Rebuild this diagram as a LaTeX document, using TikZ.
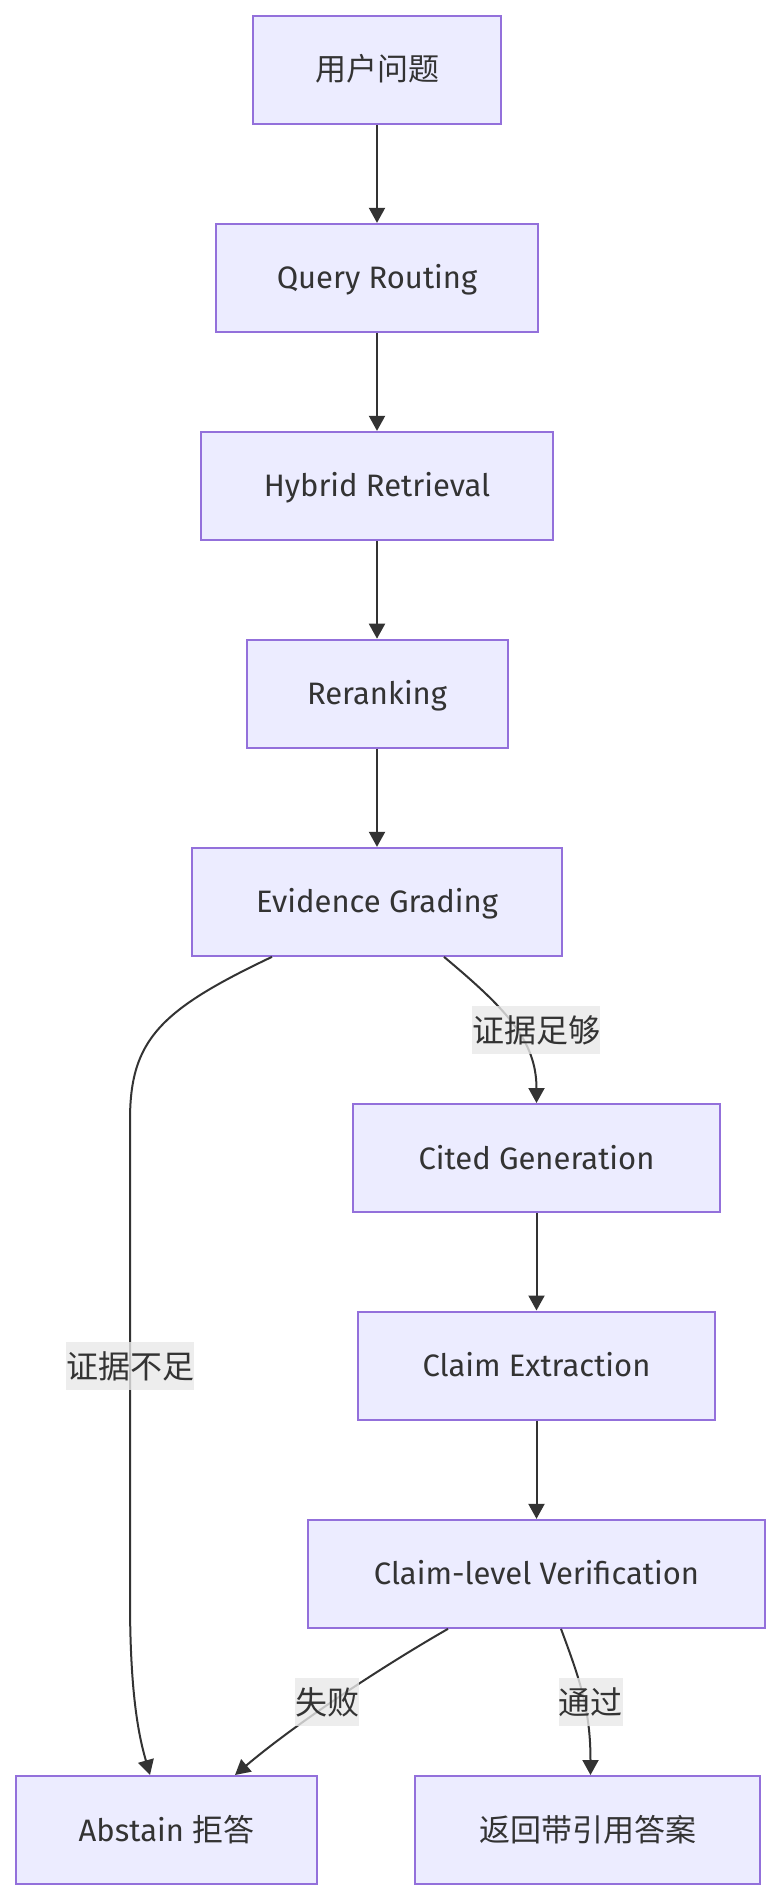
\documentclass[tikz,border=0pt]{standalone}
\usepackage{fontspec}
\setmainfont{Fira Sans}
\newfontfamily\cjk{Noto Sans CJK SC}
\usetikzlibrary{arrows.meta}
\definecolor{nodefill}{HTML}{ECECFF}
\definecolor{nodeline}{HTML}{9370DB}
\definecolor{edgecol}{HTML}{333333}
\definecolor{labelbg}{HTML}{E8E8E8}
\tikzset{
  box/.style={draw=nodeline, fill=nodefill, line width=2pt, minimum height=108pt,
    inner sep=0pt, text=edgecol, text height=22pt, text depth=0pt,
    font=\fontsize{31}{38}\selectfont},
  lbl/.style={fill=labelbg, fill opacity=0.8, text opacity=1, text=edgecol,
    inner sep=0pt, minimum height=48pt, font=\fontsize{32}{38}\selectfont\cjk},
  arr/.style={draw=edgecol, line width=2pt, -{Triangle[length=15pt,width=16pt]}}
}
\begin{document}
\begin{tikzpicture}[x=1pt,y=-1pt]
\useasboundingbox (0,0) rectangle (780,1900);
% nodes
\node[box, minimum width=248.7pt] (q) at (377,69.85) {\cjk 用户问题};
\node[box, minimum width=322.3pt] (route) at (377,277.85) {Query Routing};
\node[box, minimum width=352.6pt] (hyb) at (377,485.85) {Hybrid Retrieval};
\node[box, minimum width=261pt] (rer) at (377,693.7) {Reranking};
\node[box, minimum width=370pt] (evi) at (377,901.85) {Evidence Grading};
\node[box, minimum width=366.6pt] (cit) at (536.5,1158) {Cited Generation};
\node[box, minimum width=357.7pt] (ext) at (536.5,1365.5) {Claim Extraction};
\node[box, minimum width=457pt] (ver) at (536.5,1573.85) {Claim-level Verification};
\node[box, minimum width=301pt] (abs) at (166.5,1830) {Abstain {\cjk 拒答}};
\node[box, minimum width=345.3pt] (ans) at (587.7,1830) {\cjk 返回带引用答案};
% edges
\draw[arr] (q.south) -- (route.north);
\draw[arr] (route.south) -- (hyb.north);
\draw[arr] (hyb.south) -- (rer.north);
\draw[arr] (rer.south) -- (evi.north);
\draw[arr] ([xshift=67pt]evi.south) .. controls (505,1008) and (536.5,1040) .. (cit.north);
\draw[arr] ([xshift=-105pt]evi.south) .. controls (160,1010) and (130,1040) .. (130,1120)
  -- (130,1600) .. controls (130,1700) and (140,1740) .. ([xshift=-16.5pt]abs.north);
\draw[arr] (cit.south) -- (ext.north);
\draw[arr] (ext.south) -- (ver.north);
\draw[arr] ([xshift=-88.5pt]ver.south) .. controls (390,1662) and (300,1720) .. ([xshift=68.5pt]abs.north);
\draw[arr] ([xshift=24.5pt]ver.south) .. controls (580,1680) and (590.5,1710) .. ([xshift=2.8pt]ans.north);
% edge labels
\node[lbl] (l1) at (536,1030) {证据足够};
\node[lbl] (l2) at (130,1366) {证据不足};
\node[lbl] (l3) at (327,1702) {失败};
\node[lbl] (l4) at (590.75,1702) {通过};
\end{tikzpicture}
\end{document}
